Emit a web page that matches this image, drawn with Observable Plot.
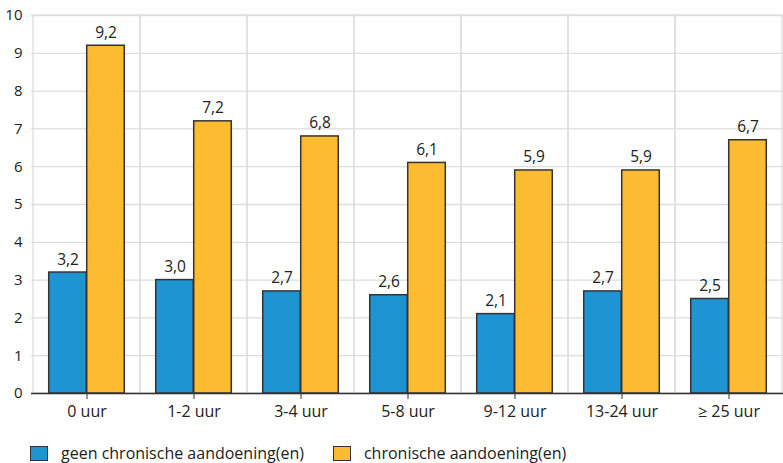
<!DOCTYPE html>
<html>
<head>
<meta charset="utf-8">
<script src="https://cdn.jsdelivr.net/npm/d3@7"></script>
<script src="https://cdn.jsdelivr.net/npm/@observablehq/plot@0.6"></script>
<style>
  body { margin: 0; background: #fff; font-family: "Open Sans", sans-serif; }
  #chart { width: 783px; }
  .legend { display: flex; align-items: center; margin: 17px 0 0 30px; font-size: 16px; color: #222; }
  .legend .item { display: flex; align-items: center; margin-right: 29px; }
  .legend .sw { width: 16px; height: 13px; border: 1.5px solid #333; margin-right: 13px; box-sizing: content-box; }
</style>
</head>
<body>
<div id="chart"></div>
<script>
const categories = ["0 uur", "1-2 uur", "3-4 uur", "5-8 uur", "9-12 uur", "13-24 uur", "≥ 25 uur"];
const series = ["geen chronische aandoening(en)", "chronische aandoening(en)"];
const geenChronisch = [3.2, 3.0, 2.7, 2.6, 2.1, 2.7, 2.5];
const chronisch = [9.2, 7.2, 6.8, 6.1, 5.9, 5.9, 6.7];
const colors = ["#1f94d2", "#fcbb30"];
const yTicks = [0,1,2,3,4,5,6,7,8,9,10];

const blue = categories.map((c, i) => ({cat: c, value: geenChronisch[i]}));
const orange = categories.map((c, i) => ({cat: c, value: chronisch[i]}));
const fmt = v => v.toFixed(1).replace(".", ",");

const W = 783, ML = 31;
const step = (W - ML) / categories.length;
const bw = 38;
const half = step / 2;

const chart = Plot.plot({
  width: W,
  height: 425,
  marginLeft: ML,
  marginRight: 0,
  marginTop: 15,
  marginBottom: 32,
  style: {fontFamily: "Open Sans, sans-serif", fontSize: "15px", color: "#222", background: "#fff"},
  x: {domain: categories, padding: 0, label: null},
  y: {domain: [0, 10], ticks: yTicks, label: null},
  marks: [
    Plot.gridY(yTicks, {stroke: "#ddd", strokeOpacity: 1, strokeWidth: 1.3}),
    Plot.barY(categories, {x: d => d, y1: 0, y2: 10, fill: "none", stroke: "#ddd", strokeWidth: 1.3}),
    Plot.barY(blue, {x: "cat", y: "value", fill: colors[0], stroke: "#333", strokeWidth: 1.5, insetLeft: half - bw, insetRight: half}),
    Plot.barY(orange, {x: "cat", y: "value", fill: colors[1], stroke: "#333", strokeWidth: 1.5, insetLeft: half, insetRight: half - bw}),
    Plot.text(blue, {x: "cat", y: "value", text: d => fmt(d.value), dx: -bw / 2, dy: -13, fontSize: 15.5, fill: "#222"}),
    Plot.text(orange, {x: "cat", y: "value", text: d => fmt(d.value), dx: bw / 2, dy: -13, fontSize: 15.5, fill: "#222"}),
    Plot.ruleY([0], {stroke: "#333", strokeWidth: 1.5}),
    Plot.axisX({tickSize: 6, stroke: "#333", tickPadding: 6, fontSize: 16, fill: "#222"}),
    Plot.axisY(yTicks, {tickSize: 0, tickPadding: 9, fontSize: 15, fill: "#222"})
  ]
});
document.getElementById("chart").appendChild(chart);

const legend = document.createElement("div");
legend.className = "legend";
series.forEach((s, i) => {
  const item = document.createElement("div");
  item.className = "item";
  const sw = document.createElement("span");
  sw.className = "sw";
  sw.style.background = colors[i];
  const t = document.createElement("span");
  t.textContent = s;
  item.appendChild(sw);
  item.appendChild(t);
  legend.appendChild(item);
});
document.getElementById("chart").appendChild(legend);
</script>
</body>
</html>
